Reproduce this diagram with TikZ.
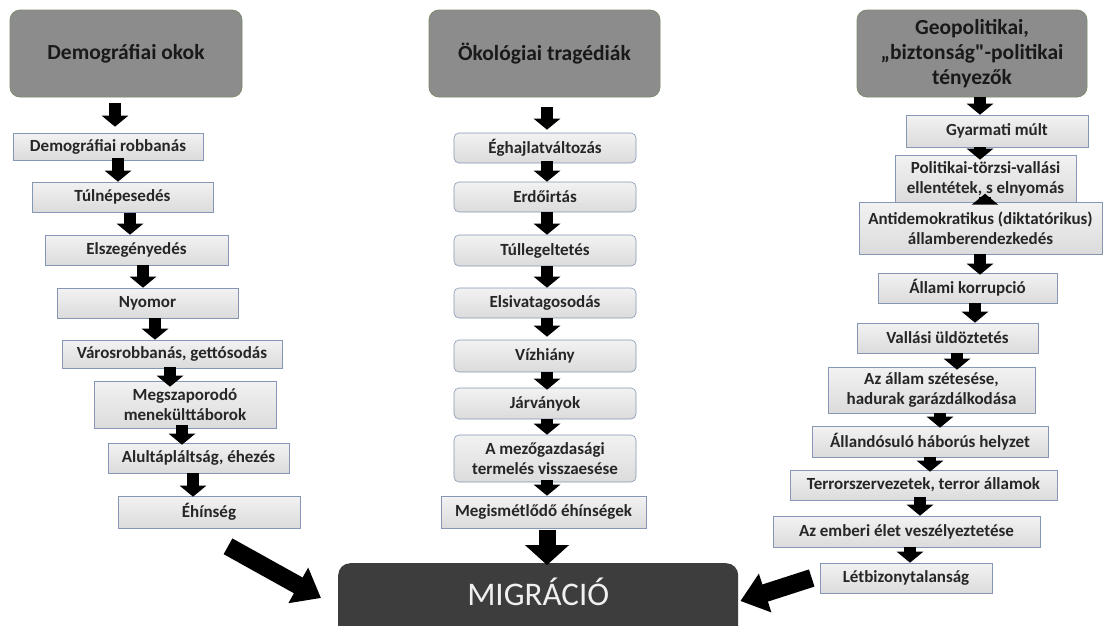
\documentclass[tikz,border=0pt]{standalone}
\usepackage{fontspec}
\setmainfont{Carlito}[Ligatures=TeXOff]
\usetikzlibrary{arrows.meta}
\definecolor{hdr}{HTML}{8C8C8C}
\definecolor{hdrline}{HTML}{7D8C6E}
\definecolor{boxline}{HTML}{8697B5}
\definecolor{migrfill}{HTML}{3D3D3D}
\begin{document}
\begin{tikzpicture}[x=1pt,y=-1pt,
  wh/.style 2 args={minimum width=#1pt,minimum height=#2pt},
  header/.style={draw=hdrline,line width=0.8pt,fill=hdr,rounded corners=10pt,inner sep=0pt,align=center,
    font=\fontsize{21.5}{25}\selectfont\bfseries,text=black!90},
  itembox/.style={draw=boxline,line width=0.6pt,top color=black!5,bottom color=black!14,inner sep=0pt,align=center,
    font=\fontsize{17}{20}\selectfont\bfseries,text=black!85},
  rbox/.style={itembox,rounded corners=5pt},
  sarrow/.style={line width=12pt,-{Triangle[width=26pt,length=11pt]},black},
  bigarrow/.style={line width=18pt,-{Triangle[width=39pt,length=26pt]},black},
  migrbox/.style={fill=migrfill,rounded corners=12pt,inner xsep=0pt,inner ysep=0pt,text height=42pt,text depth=45pt,
    font=\fontsize{33}{36}\selectfont,text=white!94!black}
]
\useasboundingbox (0,0) rectangle (1103,625);
\clip (0,0) rectangle (1103,625);
\fill[white] (0,0) rectangle (1103,625);

% headers
\node[header,wh={232}{87}] (H1) at (126,53.5) {Demográfiai okok};
\node[header,wh={231}{87}] (H2) at (544.5,53.5) {Ökológiai tragédiák};
\node[header,wh={230}{87}] (H3) at (972,53.5) {Geopolitikai,\\„biztonság"-politikai\\tényezők};

% left column
\node[itembox,wh={190}{27}] (L1) at (108,146.5) {Demográfiai robbanás};
\node[itembox,wh={181}{30}] (L2) at (122.5,197) {Túlnépesedés};
\node[itembox,wh={183}{30}] (L3) at (136.5,250) {Elszegényedés};
\node[itembox,wh={181}{30}] (L4) at (147.5,303) {Nyomor};
\node[itembox,wh={220}{28}] (L5) at (172,354) {Városrobbanás, gettósodás};
\node[itembox,wh={182}{47}] (L6) at (185,404.5) {Megszaporodó\\menekülttáborok};
\node[itembox,wh={181}{30}] (L7) at (198.5,458) {Alultápláltság, éhezés};
\node[itembox,wh={182}{32}] (L8) at (209,512) {Éhínség};

% middle column
\node[rbox,wh={182}{30}] (M1) at (545,148) {Éghajlatváltozás};
\node[rbox,wh={182}{30}] (M2) at (545,197) {Erdőirtás};
\node[rbox,wh={182}{31}] (M3) at (545,250.5) {Túllegeltetés};
\node[rbox,wh={182}{30}] (M4) at (545,303) {Elsivatagosodás};
\node[rbox,wh={182}{32}] (M5) at (545,356) {Vízhiány};
\node[rbox,wh={182}{31}] (M6) at (545,403.5) {Járványok};
\node[rbox,wh={182}{47}] (M7) at (545,458.5) {A mezőgazdasági\\termelés visszaesése};
\node[itembox,wh={205}{32}] (M8) at (543.5,512) {Megismétlődő éhínségek};

% right column
\node[itembox,wh={182}{32}] (R1) at (997,131) {Gyarmati múlt};
\node[itembox,wh={181}{47}] (R2) at (985.5,178.5) {Politikai-törzsi-vallási\\ellentétek, s elnyomás};
\node[itembox,wh={243}{52}] (R3) at (980.5,228) {Antidemokratikus (diktatórikus)\\államberendezkedés};
\node[itembox,wh={179}{30}] (R4) at (967.5,288) {Állami korrupció};
\node[itembox,wh={181}{30}] (R5) at (947.5,338) {Vallási üldöztetés};
\node[itembox,wh={207}{46}] (R6) at (931.5,390) {Az állam szétesése,\\hadurak garázdálkodása};
\node[itembox,wh={236}{31}] (R7) at (930,441.5) {Állandósuló háborús helyzet};
\node[itembox,wh={267}{30}] (R8) at (923.5,485) {Terrorszervezetek, terror államok};
\node[itembox,wh={267}{31}] (R9) at (906.5,531.5) {Az emberi élet veszélyeztetése};
\node[itembox,wh={172}{30}] (R10) at (906,578) {Létbizonytalanság};

% migration box
\node[migrbox,minimum width=400pt,anchor=north west] (MIG) at (338,563) {MIGRÁCIÓ};

% small arrows
\foreach \a/\b/\x/\s/\e in {H1/L1/115/6/6, L1/L2/118/-2/0, L2/L3/130/1/0, L3/L4/143/0/0, L4/L5/155/0/0,
    L5/L6/170/-1/-6, L6/L7/182/-3/-2, L7/L8/193/0/-1,
    H2/M1/547/10/3, M1/M2/547/-2/0, M2/M3/547/0/0, M3/M4/547/0/0, M4/M5/547/0/3,
    M5/M6/547/0/-2, M6/M7/547/0/0, M7/M8/547/-2/0,
    H3/R1/980/0/0, R1/R2/980/0/-5, R2/R3/985/-5/-8, R3/R4/980/0/-2, R4/R5/975/0/0,
    R5/R6/957/0/-3, R6/R7/940/0/-2, R7/R8/930/0/-2, R8/R9/920/-3/0, R9/R10/910/0/0}{
  \path (\x,0) coordinate (ax);
  \draw[sarrow,shorten <=\s,shorten >=\e] (\a.south -| ax) -- (\b.north -| ax);
}

% big arrows
\draw[bigarrow] ([xshift=19pt,yshift=-18pt]L8.south) -- ([xshift=-17pt,yshift=-35pt]MIG.north west);
\draw[bigarrow,line width=17pt,-{Triangle[width=43pt,length=20pt]},shorten <=2,shorten >=-2]
  ([xshift=3.5pt]M8.south) -- ([xshift=3.5pt]M8.south |- MIG.north);
\draw[bigarrow] ([xshift=-8pt]R10.west) -- ([xshift=2pt,yshift=-38pt]MIG.north east);
\end{tikzpicture}
\end{document}
